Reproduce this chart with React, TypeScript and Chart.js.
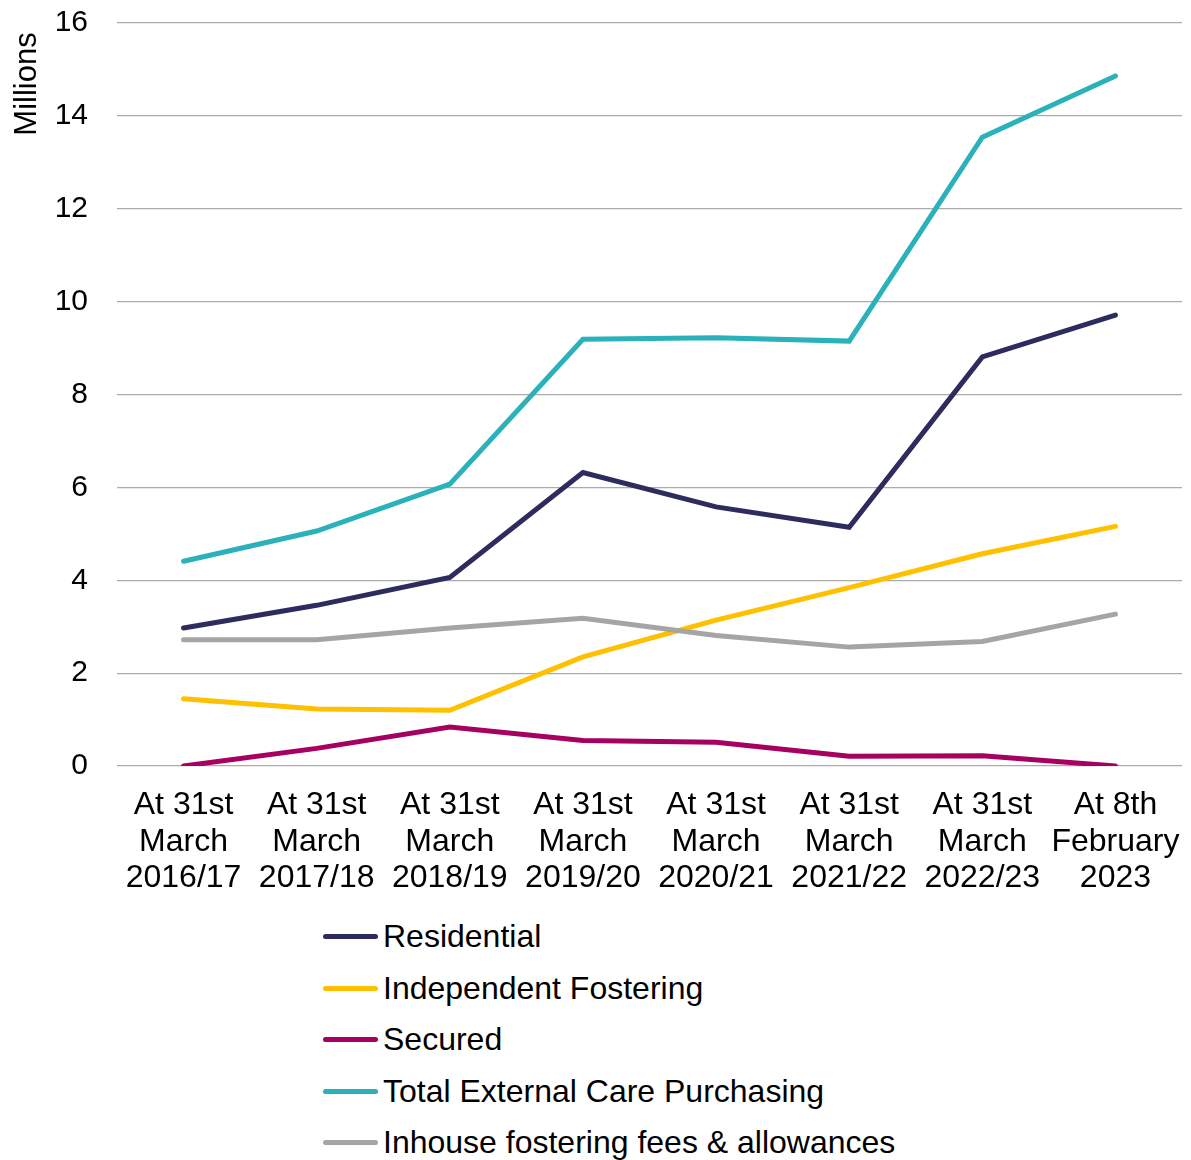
import React, { useEffect, useRef } from "react";
import { Chart, registerables } from "chart.js";

Chart.register(...registerables);

const categories: string[][] = [
  ["At 31st", "March", "2016/17"],
  ["At 31st", "March", "2017/18"],
  ["At 31st", "March", "2018/19"],
  ["At 31st", "March", "2019/20"],
  ["At 31st", "March", "2020/21"],
  ["At 31st", "March", "2021/22"],
  ["At 31st", "March", "2022/23"],
  ["At 8th", "February", "2023"],
];

const residential = [2.97, 3.46, 4.06, 6.32, 5.58, 5.14, 8.81, 9.71];
const independentFostering = [1.45, 1.23, 1.2, 2.35, 3.14, 3.84, 4.57, 5.16];
const secured = [0.0, 0.38, 0.84, 0.55, 0.51, 0.21, 0.22, 0.0];
const totalExternal = [4.41, 5.06, 6.07, 9.19, 9.22, 9.15, 13.54, 14.86];
const inhouse = [2.72, 2.72, 2.97, 3.18, 2.81, 2.56, 2.68, 3.27];

const seriesNames = [
  "Residential",
  "Independent Fostering",
  "Secured",
  "Total External Care Purchasing",
  "Inhouse fostering fees & allowances",
];
const seriesColors = ["#2E2B5F", "#FFC000", "#A50062", "#2BB1BA", "#A5A5A5"];
const seriesValues = [residential, independentFostering, secured, totalExternal, inhouse];

const yTicks = [0, 2, 4, 6, 8, 10, 12, 14, 16];

const FONT = '"Liberation Sans", Arial, sans-serif';

const yTitlePlugin = {
  id: "yTitle",
  afterDraw(chart: any) {
    const ctx = chart.ctx;
    ctx.save();
    ctx.translate(27, 84);
    ctx.rotate(-Math.PI / 2);
    ctx.font = `31px ${FONT}`;
    ctx.fillStyle = "#000";
    ctx.textAlign = "center";
    ctx.textBaseline = "middle";
    ctx.fillText("Millions", 0, 0);
    ctx.restore();
  },
};

export default function App() {
  const ref = useRef<HTMLCanvasElement | null>(null);

  useEffect(() => {
    if (!ref.current) return;
    const chart = new Chart(ref.current, {
      type: "line",
      data: {
        labels: categories,
        datasets: seriesValues.map((vals, i) => ({
          label: seriesNames[i],
          data: vals,
          borderColor: seriesColors[i],
          backgroundColor: seriesColors[i],
          borderWidth: 5,
          pointRadius: 0,
          tension: 0,
          borderCapStyle: "round" as const,
          borderJoinStyle: "miter" as const,
          order: seriesValues.length - i,
        })),
      },
      options: {
        responsive: false,
        animation: false,
        devicePixelRatio: 1,
        layout: { padding: { top: 23, right: 9, left: 0, bottom: 0 } },
        plugins: {
          legend: { display: false },
          tooltip: { enabled: false },
        },
        scales: {
          x: {
            offset: true,
            grid: { display: false, drawTicks: false },
            border: { display: false },
            ticks: {
              color: "#000",
              font: { family: FONT, size: 32, lineHeight: 1.14 },
              padding: 21,
              maxRotation: 0,
              autoSkip: false,
            },
            afterFit(scale: any) {
              scale.height = 134;
              scale.paddingLeft = 0;
              scale.paddingRight = 0;
            },
          },
          y: {
            min: 0,
            max: 16,
            afterBuildTicks(scale: any) {
              scale.ticks = yTicks.map((v) => ({ value: v }));
            },
            grid: { color: "#ABABAB", lineWidth: 1.2, drawTicks: false },
            border: { display: false },
            ticks: {
              color: "#000",
              font: { family: FONT, size: 30 },
              padding: 29,
            },
            afterFit(scale: any) {
              scale.width = 117;
              scale.paddingTop = 0;
              scale.paddingBottom = 0;
            },
          },
        },
      },
      plugins: [yTitlePlugin],
    });
    return () => chart.destroy();
  }, []);

  const legendCenters = [936, 988, 1039, 1091, 1142];

  return (
    <div
      style={{
        position: "absolute",
        left: 0,
        top: 0,
        width: 1191,
        height: 1160,
        background: "#fff",
        fontFamily: FONT,
      }}
    >
      <canvas ref={ref} width={1191} height={900} style={{ display: "block" }} />
      {seriesNames.map((name, i) => (
        <div
          key={name}
          style={{
            position: "absolute",
            left: 323,
            top: legendCenters[i] - 20,
            height: 40,
            display: "flex",
            alignItems: "center",
            whiteSpace: "nowrap",
          }}
        >
          <span
            style={{
              display: "inline-block",
              width: 55,
              height: 5,
              borderRadius: 3,
              background: seriesColors[i],
              marginRight: 5,
            }}
          />
          <span style={{ fontSize: 32, color: "#000", lineHeight: "40px" }}>{name}</span>
        </div>
      ))}
    </div>
  );
}
